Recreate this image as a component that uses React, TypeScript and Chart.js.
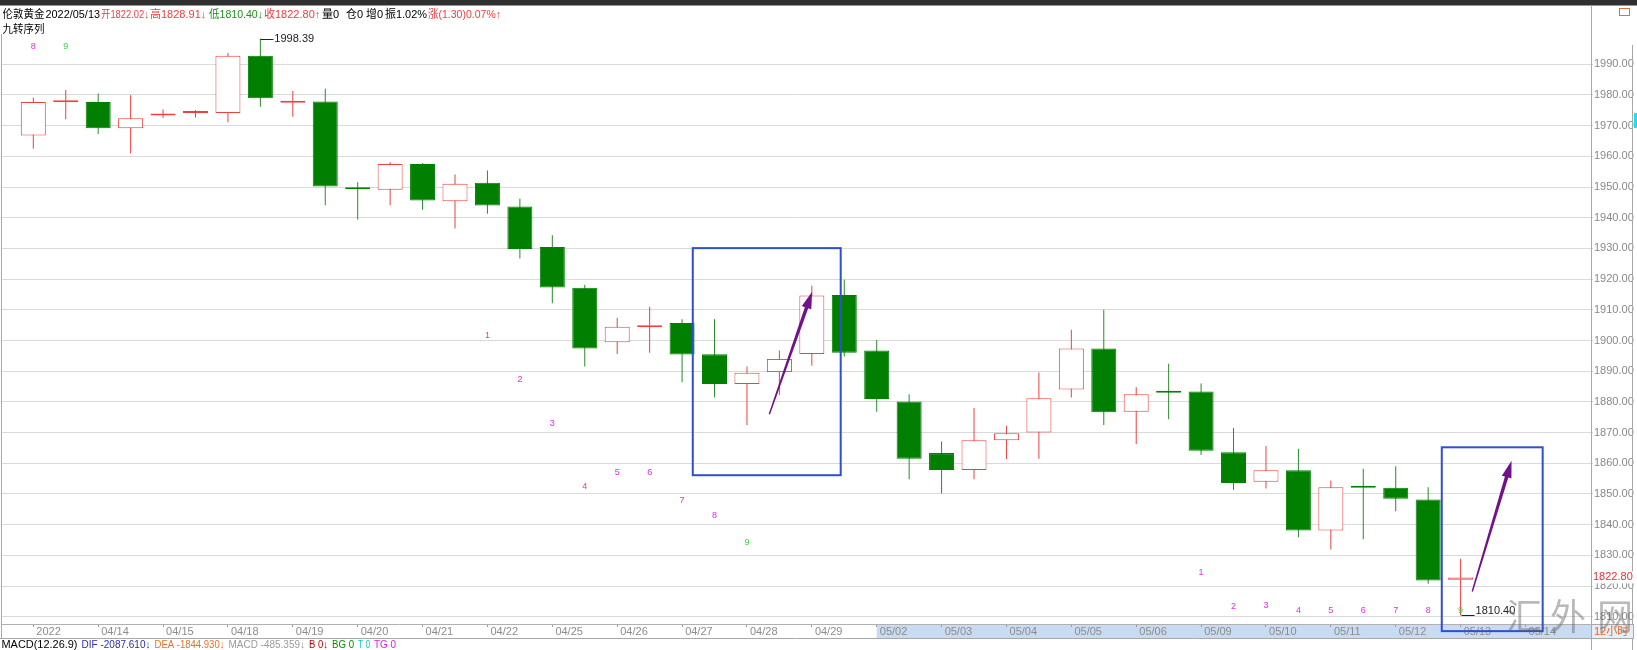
import React, { useEffect, useRef } from 'react';
import { Chart, registerables } from 'chart.js';

Chart.register(...registerables);
Chart.defaults.font.family = "'Liberation Sans', Arial, 'Noto Sans CJK SC', sans-serif";

// ---------- data ----------
const dateLabels = ['2022', '04/14', '04/15', '04/18', '04/19', '04/20', '04/21', '04/22', '04/25', '04/26', '04/27', '04/28', '04/29', '05/02', '05/03', '05/04', '05/05', '05/06', '05/09', '05/10', '05/11', '05/12', '05/13', '05/14'];

const opens = [1966.8, 1977.6, 1977.7, 1969.2, 1973.3, 1974.1, 1974.1, 1992.8, 1977.5, 1977.9, 1949.9, 1949.1, 1957.5, 1945.4, 1951.4, 1943.7, 1930.5, 1917.2, 1899.4, 1904.3, 1905.7, 1895.5, 1885.8, 1889.7, 1895.6, 1914.8, 1896.7, 1880.1, 1863.3, 1857.8, 1867.5, 1870.0, 1884.0, 1897.4, 1876.8, 1883.2, 1883.4, 1863.6, 1854.0, 1857.7, 1838.1, 1852.5, 1852.0, 1848.2, 1822.02];
const highs = [1979.2, 1981.6, 1980.5, 1979.9, 1975.3, 1975.1, 1993.7, 1998.39, 1981.3, 1982.0, 1951.6, 1958.2, 1957.8, 1954.1, 1955.4, 1946.2, 1934.3, 1918.2, 1907.4, 1911.0, 1906.9, 1906.9, 1891.5, 1896.7, 1917.8, 1919.8, 1900.2, 1882.5, 1867.1, 1878.0, 1872.2, 1889.6, 1903.5, 1910.0, 1884.8, 1892.4, 1886.0, 1871.5, 1865.6, 1864.7, 1854.4, 1858.2, 1859.0, 1852.2, 1828.91];
const lows = [1962.5, 1972.1, 1967.3, 1961.0, 1972.6, 1972.7, 1971.1, 1976.2, 1972.9, 1944.1, 1939.4, 1944.1, 1942.6, 1936.5, 1941.3, 1926.7, 1912.1, 1891.5, 1895.6, 1896.0, 1886.4, 1881.5, 1872.5, 1882.2, 1891.8, 1894.8, 1876.8, 1854.8, 1850.2, 1854.8, 1861.3, 1861.5, 1881.4, 1872.5, 1866.3, 1874.3, 1862.7, 1851.4, 1851.8, 1835.9, 1831.9, 1835.2, 1844.4, 1820.7, 1810.40];
const closes = [1977.7, 1977.9, 1969.2, 1972.4, 1973.6, 1974.4, 1992.8, 1978.9, 1977.8, 1950.2, 1949.3, 1957.5, 1945.6, 1951.1, 1944.0, 1929.8, 1917.3, 1897.4, 1904.5, 1905.0, 1895.4, 1885.8, 1889.5, 1894.0, 1914.7, 1896.0, 1880.9, 1861.5, 1857.8, 1867.5, 1869.8, 1881.2, 1897.4, 1876.6, 1882.5, 1883.0, 1864.1, 1853.6, 1857.7, 1838.1, 1852.2, 1852.0, 1848.4, 1821.8, 1822.80];

const priceTicks = [1810, 1820, 1830, 1840, 1850, 1860, 1870, 1880, 1890, 1900, 1910, 1920, 1930, 1940, 1950, 1960, 1970, 1980, 1990];

// 九转序列 numbers
const tdIndex = [0, 1, 14, 15, 16, 17, 18, 19, 20, 21, 22, 36, 37, 38, 39, 40, 41, 42, 43, 44];
const tdText = ['8', '9', '1', '2', '3', '4', '5', '6', '7', '8', '9', '1', '2', '3', '4', '5', '6', '7', '8', '9'];
const tdLevel = [1995.8, 1995.8, 1901.5, 1887.2, 1872.9, 1852.5, 1856.9, 1856.9, 1847.8, 1842.9, 1834.1, 1824.4, 1813.3, 1813.5, 1811.9, 1811.9, 1811.9, 1811.9, 1811.9, 1812.0];

// highlight boxes (candle index / price)
const boxX0 = [20.33, 43.42];
const boxX1 = [24.89, 46.53];
const boxTop = [1930.1, 1865.2];
const boxBottom = [1856.1, 1805.3];

// arrows
const arrowFromX = [22.69, 44.36];
const arrowFromY = [1876.0, 1818.2];
const arrowToX = [24.01, 45.57];
const arrowToY = [1915.9, 1860.8];

const highMarkIndex = 7;
const lowMarkIndex = 44;
const shadeFromIndex = 26;

// header / footer texts
const headerTexts = ['伦敦黄金', '2022/05/13', '开1822.02↓', '高1828.91↓', '低1810.40↓', '收1822.80↑', '量0', '仓0', '增0', '振1.02%', '涨(1.30)0.07%↑'];
const headerColors = ['#000', '#000', 'red', 'red', 'green', 'red', '#000', '#000', '#000', '#000', 'red'];
const headerX = [2.5, 45.5, 101, 150, 209, 264, 322, 346, 366, 385, 428];
const macdTexts = ['MACD(12.26.9)', 'DIF -2087.610↓', 'DEA -1844.930↓', 'MACD -485.359↓', 'B 0↓', 'BG 0', 'T 0', 'TG 0'];
const macdColors = ['#000', '#2b2ba6', '#e0742a', '#9a9a9a', '#c00000', '#008a00', '#10c8c8', '#e020e0'];
const macdX = [1.5, 81.5, 154.5, 228.5, 309, 332, 358, 374];

// ---------- colours ----------
const RED = '#ee4040';
const GREEN = '#007f00';

const isUp = (i: number) => closes[i] >= opens[i];

function drawArrow(ctx: CanvasRenderingContext2D, x0: number, y0: number, x1: number, y1: number) {
  const dx = x1 - x0, dy = y1 - y0;
  const len = Math.hypot(dx, dy);
  const ux = dx / len, uy = dy / len;
  const nx = -uy, ny = ux;
  const headLen = 17, headW = 5;
  const bx = x1 - ux * headLen, by = y1 - uy * headLen;
  ctx.beginPath();
  ctx.moveTo(x0 + nx * 0.7, y0 + ny * 0.7);
  ctx.lineTo(bx + nx * 1.8, by + ny * 1.8);
  ctx.lineTo(bx + nx * headW, by + ny * headW);
  ctx.lineTo(x1, y1);
  ctx.lineTo(bx - nx * headW, by - ny * headW);
  ctx.lineTo(bx - nx * 1.8, by - ny * 1.8);
  ctx.lineTo(x0 - nx * 0.7, y0 - ny * 0.7);
  ctx.closePath();
  ctx.fill();
}

const overlayPlugin = {
  id: 'overlay',
  beforeDraw(chart: any) {
    const { ctx, chartArea: a, scales } = chart;
    const x = scales.x;
    ctx.save();
    const bx = x.getPixelForValue(shadeFromIndex);
    ctx.fillStyle = '#c8dbf3';
    ctx.fillRect(bx, a.bottom, a.right - bx, 14);
    ctx.restore();
  },
  afterDraw(chart: any) {
    const { ctx, chartArea: a, scales } = chart;
    const x = scales.x, y = scales.y;
    const W = chart.width, H = chart.height;
    ctx.save();

    // top dark strip
    ctx.fillStyle = '#2f2f2f';
    ctx.fillRect(0, 0, W, 5.5);

    // frame lines
    ctx.strokeStyle = '#a8a8a8';
    ctx.lineWidth = 1;
    ctx.beginPath();
    ctx.moveTo(1.5, 34); ctx.lineTo(1.5, a.bottom + 14);
    ctx.moveTo(0, a.bottom + 14.5); ctx.lineTo(a.right, a.bottom + 14.5);
    ctx.moveTo(a.right + 0.5, 5.5); ctx.lineTo(a.right + 0.5, H);
    ctx.moveTo(1632.5, 45); ctx.lineTo(1632.5, H);
    ctx.stroke();

    // header
    ctx.font = "11px 'Liberation Sans', Arial, 'Noto Sans CJK SC', sans-serif";
    ctx.textBaseline = 'middle';
    ctx.textAlign = 'left';
    headerTexts.forEach((t, k) => {
      const c = headerColors[k];
      ctx.fillStyle = c === 'red' ? RED : c === 'green' ? '#1f8f1f' : c;
      const next = k + 1 < headerX.length ? headerX[k + 1] : 502;
      ctx.fillText(t, headerX[k], 15, next - headerX[k] - 1);
    });
    ctx.fillStyle = '#000';
    ctx.fillText('九转序列', 2.5, 30, 42);

    // high / low marks
    ctx.strokeStyle = '#222';
    ctx.fillStyle = '#222';
    ctx.font = "11px 'Liberation Sans', Arial, sans-serif";
    const hxp = x.getPixelForValue(highMarkIndex), hyp = y.getPixelForValue(highs[highMarkIndex]);
    ctx.beginPath();
    ctx.moveTo(Math.round(hxp) + 0.5, Math.round(hyp) + 0.5);
    ctx.lineTo(Math.round(hxp) + 13.5, Math.round(hyp) + 0.5);
    ctx.stroke();
    ctx.fillText(highs[highMarkIndex].toFixed(2), hxp + 14, hyp);
    const lxp = x.getPixelForValue(lowMarkIndex), lyp = y.getPixelForValue(lows[lowMarkIndex]);
    ctx.beginPath();
    ctx.moveTo(Math.round(lxp) + 0.5, Math.round(lyp) + 0.5);
    ctx.lineTo(Math.round(lxp) + 13.5, Math.round(lyp) + 0.5);
    ctx.stroke();
    ctx.textBaseline = 'bottom';
    ctx.fillText(lows[lowMarkIndex].toFixed(2), lxp + 15, lyp + 1);

    // TD sequence numbers
    ctx.font = "9px 'Liberation Sans', Arial, sans-serif";
    ctx.textAlign = 'center';
    ctx.textBaseline = 'middle';
    tdIndex.forEach((idx, k) => {
      ctx.fillStyle = tdText[k] === '9' ? '#3ed83e' : '#e02ee0';
      ctx.fillText(tdText[k], x.getPixelForValue(idx), y.getPixelForValue(tdLevel[k]));
    });

    // highlight boxes
    ctx.strokeStyle = '#2f4fd2';
    ctx.lineWidth = 2;
    boxX0.forEach((bx0, k) => {
      const px0 = x.getPixelForValue(bx0), px1 = x.getPixelForValue(boxX1[k]);
      const py0 = y.getPixelForValue(boxTop[k]), py1 = y.getPixelForValue(boxBottom[k]);
      ctx.strokeRect(px0, py0, px1 - px0, py1 - py0);
    });

    // arrows
    ctx.fillStyle = '#72128a';
    arrowFromX.forEach((fx, k) => {
      drawArrow(ctx, x.getPixelForValue(fx), y.getPixelForValue(arrowFromY[k]), x.getPixelForValue(arrowToX[k]), y.getPixelForValue(arrowToY[k]));
    });

    // last price tag on axis
    const cy = y.getPixelForValue(closes[closes.length - 1]);
    ctx.fillStyle = '#ffffff';
    ctx.fillRect(a.right + 1, cy - 6, 41, 12);
    ctx.fillStyle = '#e83030';
    ctx.font = "11px 'Liberation Sans', Arial, sans-serif";
    ctx.textAlign = 'left';
    ctx.fillText(closes[closes.length - 1].toFixed(2), a.right + 2, cy);

    // period box
    ctx.fillStyle = '#e6edf7';
    ctx.fillRect(a.right + 1, a.bottom + 1, 41, 14);
    ctx.strokeStyle = '#a8a8a8';
    ctx.lineWidth = 1;
    ctx.strokeRect(a.right + 0.5, a.bottom + 0.5, 42, 14);
    ctx.fillStyle = '#e8641e';
    ctx.font = "11px 'Liberation Sans', 'Noto Sans CJK SC', sans-serif";
    ctx.fillText('12小时', a.right + 3, a.bottom + 8);

    // small marks on right edge
    ctx.strokeStyle = '#e07040';
    ctx.strokeRect(1619.5, 8.5, 10, 7);
    ctx.fillStyle = '#22e0e8';
    ctx.fillRect(1634, 113, 3, 15);

    // MACD line
    ctx.font = "11px 'Liberation Sans', Arial, sans-serif";
    ctx.textBaseline = 'middle';
    macdTexts.forEach((t, k) => {
      ctx.fillStyle = macdColors[k];
      const next = k + 1 < macdX.length ? macdX[k + 1] : 400;
      ctx.fillText(t, macdX[k], 645, next - macdX[k] - 4);
    });

    // watermark
    ctx.fillStyle = 'rgba(100,100,100,0.45)';
    ctx.font = "36px 'Noto Sans CJK SC', sans-serif";
    ctx.textAlign = 'center';
    ctx.textBaseline = 'middle';
    const wm = ['汇', '外', '网'];
    const wmx = [1524, 1568, 1615];
    wm.forEach((ch, k) => ctx.fillText(ch, wmx[k], 616));

    ctx.restore();
  },
};

export default function App() {
  const ref = useRef<HTMLCanvasElement>(null);
  useEffect(() => {
    if (!ref.current) return;
    const n = opens.length;
    const idx = Array.from({ length: n }, (_, i) => i);
    const chart = new Chart(ref.current, {
      type: 'bar',
      data: {
        datasets: [
          {
            label: 'body',
            data: idx.map((i) => ({ x: i, y: [opens[i], closes[i]] })) as any,
            backgroundColor: idx.map((i) => (isUp(i) ? '#ffffff' : GREEN)),
            borderColor: idx.map((i) => (isUp(i) ? RED : GREEN)),
            borderWidth: 1,
            borderSkipped: false,
            barThickness: 25,
            minBarLength: 2,
            grouped: false,
            inflateAmount: 0,
            order: 0,
          } as any,
          {
            label: 'wick',
            data: idx.map((i) => ({ x: i, y: [lows[i], highs[i]] })) as any,
            backgroundColor: idx.map((i) => (isUp(i) ? RED : '#2a8a2a')),
            borderWidth: 0,
            barThickness: 1,
            grouped: false,
            inflateAmount: 0,
            order: 1,
          } as any,
        ],
      },
      options: {
        animation: false,
        responsive: false,
        maintainAspectRatio: false,
        layout: { padding: { left: 2, top: 36, right: 0, bottom: 0 } },
        plugins: { legend: { display: false }, tooltip: { enabled: false } },
        scales: {
          x: {
            type: 'linear',
            min: -0.965,
            max: 48.02,
            offset: false,
            position: 'bottom',
            grid: { offset: false, drawOnChartArea: false, drawTicks: true, tickLength: 3, color: '#9a9a9a' },
            border: { display: true, color: '#b0b0b0' },
            ticks: {
              autoSkip: false,
              maxRotation: 0,
              minRotation: 0,
              align: 'start',
              padding: -2,
              color: '#8c8c8c',
              font: { size: 11 },
              callback: (_v: any, i: number) => ' ' + dateLabels[i],
            },
            afterBuildTicks: (s: any) => {
              s.ticks = dateLabels.map((_, k) => ({ value: k * 2 }));
            },
            afterFit: (s: any) => {
              s.height = 26;
            },
          } as any,
          y: {
            type: 'linear',
            position: 'right',
            min: 1807.62,
            max: 1999.22,
            grid: { color: '#dadada', tickLength: 2, drawTicks: true },
            border: { display: true, color: '#9a9a9a' },
            ticks: {
              padding: 1,
              color: '#888888',
              font: { size: 11 },
              callback: (v: any) => Number(v).toFixed(2),
            },
            afterBuildTicks: (s: any) => {
              s.ticks = priceTicks.map((v) => ({ value: v }));
            },
            afterFit: (s: any) => {
              s.width = 46;
            },
          } as any,
        },
      },
      plugins: [overlayPlugin],
    });
    return () => chart.destroy();
  }, []);

  return (
    <div style={{ position: 'fixed', left: 0, top: 0, width: 1637, height: 650, background: '#fff' }}>
      <canvas ref={ref} width={1637} height={650} style={{ display: 'block', width: 1637, height: 650 }} />
    </div>
  );
}
